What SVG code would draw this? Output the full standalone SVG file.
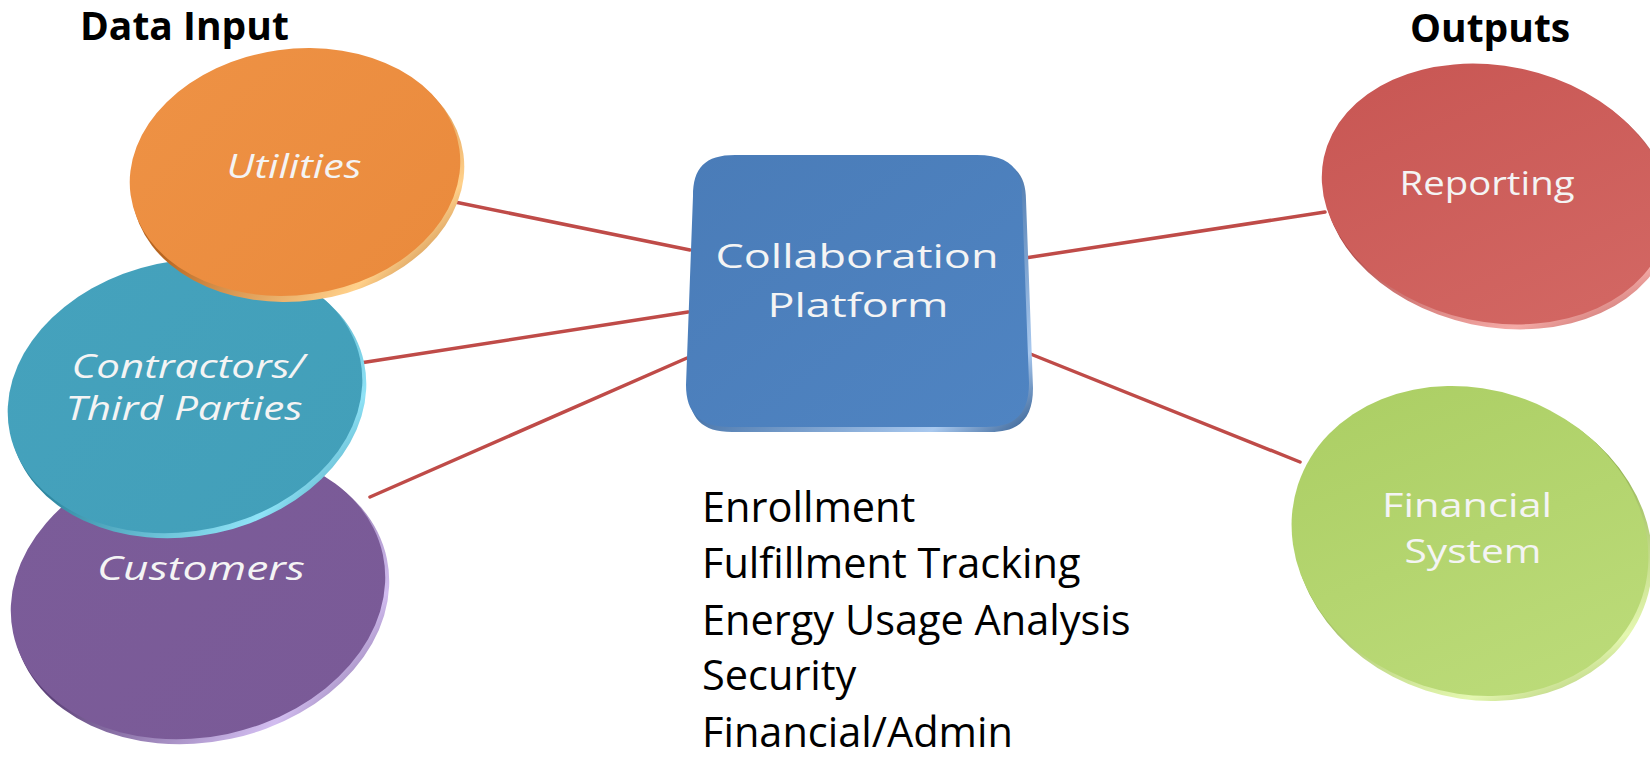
<svg xmlns="http://www.w3.org/2000/svg" width="1650" height="758" viewBox="0 0 1650 758">
<style>
.title{font-family:"Open Sans","Liberation Sans",sans-serif;font-weight:bold;font-size:39px;fill:#000}
.lbl{font-family:"Open Sans","Liberation Sans",sans-serif;fill:#f4f4f4;text-anchor:middle}
.it{font-style:italic;font-size:33px}
.up{font-size:32px}
.list{font-family:"Open Sans","Liberation Sans",sans-serif;font-size:41.5px;fill:#000}
.conn{stroke:#bf4b48;stroke-width:3.5;fill:none;stroke-linecap:round}
</style>
<defs>
<linearGradient id="gOr" x1="0" y1="0" x2="1" y2="1"><stop offset="0" stop-color="#ee9245"/><stop offset="1" stop-color="#ea8a3c"/></linearGradient>
<linearGradient id="gOrR" x1="0" y1="0" x2="1" y2="1"><stop offset="0.4" stop-color="#b86520"/><stop offset="0.8" stop-color="#ffd08a"/><stop offset="1" stop-color="#9a5318"/></linearGradient>
<linearGradient id="gTe" x1="0" y1="0" x2="1" y2="1"><stop offset="0" stop-color="#45a2bd"/><stop offset="1" stop-color="#429fb9"/></linearGradient>
<linearGradient id="gTeR" x1="0" y1="0" x2="1" y2="1"><stop offset="0.4" stop-color="#2e87a0"/><stop offset="0.8" stop-color="#8fe3f7"/><stop offset="1" stop-color="#2a7f97"/></linearGradient>
<linearGradient id="gPu" x1="0" y1="0" x2="1" y2="1"><stop offset="0" stop-color="#7b5c99"/><stop offset="1" stop-color="#7a5a97"/></linearGradient>
<linearGradient id="gPuR" x1="0" y1="0" x2="1" y2="1"><stop offset="0.4" stop-color="#5e437a"/><stop offset="0.8" stop-color="#d2bdf0"/><stop offset="1" stop-color="#574070"/></linearGradient>
<linearGradient id="gRe" x1="0" y1="0" x2="1" y2="1"><stop offset="0" stop-color="#c75552"/><stop offset="1" stop-color="#d46965"/></linearGradient>
<linearGradient id="gReR" x1="0" y1="0" x2="1" y2="1"><stop offset="0.4" stop-color="#a63c3a"/><stop offset="0.8" stop-color="#f4aaa6"/><stop offset="1" stop-color="#9a3533"/></linearGradient>
<linearGradient id="gGr" x1="0" y1="0" x2="1" y2="1"><stop offset="0" stop-color="#aacd62"/><stop offset="1" stop-color="#bedd7c"/></linearGradient>
<linearGradient id="gGrR" x1="0" y1="0" x2="1" y2="1"><stop offset="0.4" stop-color="#86a844"/><stop offset="0.8" stop-color="#e4f7b0"/><stop offset="1" stop-color="#7f9e40"/></linearGradient>
<linearGradient id="gBl" x1="0" y1="0" x2="1" y2="1"><stop offset="0" stop-color="#4a7cb8"/><stop offset="1" stop-color="#4f84c2"/></linearGradient>
<linearGradient id="gBlR" x1="0" y1="0" x2="1" y2="1"><stop offset="0.4" stop-color="#35649c"/><stop offset="0.85" stop-color="#a9c9ef"/><stop offset="1" stop-color="#2f5a8e"/></linearGradient>
</defs>

<g id="connectors">
<line class="conn" x1="450" y1="201" x2="690" y2="250"/>
<line class="conn" x1="360" y1="363" x2="688" y2="312"/>
<line class="conn" x1="370" y1="497" x2="687" y2="358"/>
<line class="conn" x1="1025" y1="258" x2="1325" y2="212"/>
<line class="conn" x1="1028" y1="353" x2="1300" y2="462"/>
</g>

<g id="customers">
<ellipse cx="201" cy="598" rx="190" ry="144" transform="rotate(-12 201 598)" fill="url(#gPuR)"/>
<ellipse cx="198" cy="594" rx="189" ry="143" transform="rotate(-12 198 594)" fill="url(#gPu)"/>
<text class="lbl it" x="201" y="580" font-size="36" textLength="208" lengthAdjust="spacingAndGlyphs">Customers</text>
</g>

<g id="contractors">
<ellipse cx="188" cy="400" rx="180" ry="136" transform="rotate(-12 188 400)" fill="url(#gTeR)"/>
<ellipse cx="185" cy="396" rx="179" ry="135" transform="rotate(-12 185 396)" fill="url(#gTe)"/>
<text class="lbl it" x="188" y="378" textLength="233" lengthAdjust="spacingAndGlyphs">Contractors/</text>
<text class="lbl it" x="184" y="420" textLength="237" lengthAdjust="spacingAndGlyphs">Third Parties</text>
</g>

<g id="utilities">
<ellipse cx="298" cy="177" rx="167" ry="124" transform="rotate(-8 298 177)" fill="url(#gOrR)"/>
<ellipse cx="295" cy="172" rx="166" ry="123" transform="rotate(-8 295 172)" fill="url(#gOr)"/>
<text class="lbl it" x="294" y="178" textLength="135" lengthAdjust="spacingAndGlyphs">Utilities</text>
</g>

<g id="platform">
<path d="M737,159 L980,159 C1012,159 1026,172 1026,200 L1033,388 C1033,418 1020,432 990,432 L732,432 C702,432 689,418 689,390 L695,200 C695,172 707,159 737,159 Z" fill="url(#gBlR)"/>
<path d="M735,155 L977,155 C1008,155 1022,168 1022,196 L1029,383 C1029,413 1016,427 986,427 L730,427 C700,427 686,413 686,385 L693,196 C693,168 705,155 735,155 Z" fill="url(#gBl)"/>
<text class="lbl up" x="857" y="268" font-size="37" textLength="283" lengthAdjust="spacingAndGlyphs">Collaboration</text>
<text class="lbl up" x="858" y="317" font-size="37" textLength="181" lengthAdjust="spacingAndGlyphs">Platform</text>
</g>

<g id="reporting">
<ellipse cx="1498" cy="198" rx="176" ry="129" transform="rotate(12 1498 198)" fill="url(#gReR)"/>
<ellipse cx="1495" cy="194" rx="175" ry="128" transform="rotate(12 1495 194)" fill="url(#gRe)"/>
<text class="lbl up" x="1487" y="195" textLength="175" lengthAdjust="spacingAndGlyphs">Reporting</text>
</g>

<g id="financial">
<ellipse cx="1473" cy="545" rx="182" ry="153" transform="rotate(18 1473 545)" fill="url(#gGrR)"/>
<ellipse cx="1470" cy="541" rx="181" ry="152" transform="rotate(18 1470 541)" fill="url(#gGr)"/>
<text class="lbl up" x="1467" y="517" textLength="170" lengthAdjust="spacingAndGlyphs">Financial</text>
<text class="lbl up" x="1473" y="563" textLength="137" lengthAdjust="spacingAndGlyphs">System</text>
</g>

<g id="headings">
<text class="title" x="80" y="40">Data Input</text>
<text class="title" x="1410" y="42">Outputs</text>
</g>

<g id="functions">
<text class="list" x="702" y="522">Enrollment</text>
<text class="list" x="702" y="578">Fulfillment Tracking</text>
<text class="list" x="702" y="635">Energy Usage Analysis</text>
<text class="list" x="702" y="690">Security</text>
<text class="list" x="702" y="747">Financial/Admin</text>
</g>
</svg>
